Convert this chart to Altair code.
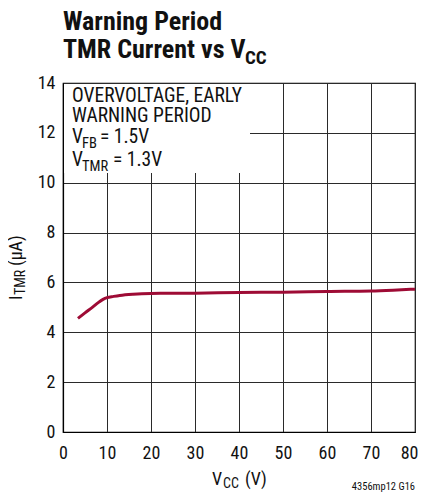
import altair as alt
import pandas as pd

# Data
vcc = [3.4, 5.0, 6.8, 8.0, 9.1, 10.0, 11.5, 12.9, 15.9, 20, 25, 30, 40, 50, 60, 70, 75, 80]
itmr = [4.56, 4.78, 5.02, 5.19, 5.32, 5.39, 5.44, 5.48, 5.53, 5.56, 5.565, 5.57, 5.60, 5.61, 5.64, 5.66, 5.69, 5.73]
x_ticks = [0, 10, 20, 30, 40, 50, 60, 70, 80]
y_ticks = [0, 2, 4, 6, 8, 10, 12, 14]

df = pd.DataFrame({"vcc": vcc, "itmr": itmr})

FONT = "Roboto Condensed, sans-serif"
W, H = 352, 349
RED = "#9E0B35"

base = alt.Chart(df)

line = base.mark_line(color=RED, strokeWidth=3, interpolate="monotone").encode(
    x=alt.X("vcc:Q", scale=alt.Scale(domain=[0, 80], nice=False),
            axis=alt.Axis(values=x_ticks, title=None, grid=True, ticks=False, tickSize=0,
                          labelPadding=12, labelFontSize=18, labelFont=FONT, labelFontWeight="normal",
                          labelColor="#111", domainColor="#000", domainWidth=1.2,
                          gridColor="#2a2a2a", gridWidth=1, labelFlush=False,
                          labelAlign=alt.expr("datum.value == 80 ? 'right' : 'center'"),
                          labelOffset=alt.expr("datum.value == 80 ? 3 : 0"))),
    y=alt.Y("itmr:Q", scale=alt.Scale(domain=[0, 14], nice=False),
            axis=alt.Axis(values=y_ticks, title=None, grid=True, ticks=False, tickSize=0,
                          labelPadding=8, labelFontSize=18, labelFont=FONT, labelFontWeight="normal",
                          labelColor="#111", domainColor="#000", domainWidth=1.2,
                          gridColor="#2a2a2a", gridWidth=1)),
)

box = alt.Chart(df).mark_rect(fill="white").encode(
    x=alt.value(1), x2=alt.value(187), y=alt.value(1), y2=alt.value(90)
)


def txt(s, x, y, size, bold=False, angle=0, align="left", color="#111"):
    return alt.Chart(df).transform_filter("datum.vcc == 80").mark_text(
        text=s, align=align, baseline="alphabetic", font=FONT, fontSize=size,
        fontWeight="bold" if bold else "normal", angle=angle, color=color
    ).encode(x=alt.value(x), y=alt.value(y))


texts = [
    # title
    txt("Warning Period", 0, -53, 26, bold=True),
    txt("TMR Current vs V", 0, -25, 26, bold=True),
    txt("CC", 182, -19, 19, bold=True),
    # annotation
    txt("OVERVOLTAGE, EARLY", 9, 19, 19.5),
    txt("WARNING PERIOD", 9, 39, 19.5),
    txt("V", 9, 60, 19.5),
    txt("FB", 19, 65, 14.5),
    txt("= 1.5V", 37, 60, 19.5),
    txt("V", 9, 83, 19.5),
    txt("TMR", 19, 88, 14.5),
    txt("= 1.3V", 50, 83, 19.5),
    # x title
    txt("V", 149, 402, 18),
    txt("CC", 160, 405, 14),
    txt("(V)", 182, 402, 18),
    # y title
    txt("I", -41, 217, 18, angle=270),
    txt("TMR", -38, 212, 14, angle=270),
    txt("(µA)", -41, 183, 18, angle=270),
    # footer
    txt("4356mp12 G16", W, 407, 10.5, align="right"),
]

chart = alt.layer(line, box, *texts).properties(
    width=W, height=H,
    autosize=alt.AutoSizeParams(type="none"),
    padding={"left": 55, "top": 75, "right": 3, "bottom": 62},
    background="white",
).configure_view(stroke="#000", strokeWidth=1.2)

chart.save("out.html", embed_options={"renderer": "svg", "actions": False})
